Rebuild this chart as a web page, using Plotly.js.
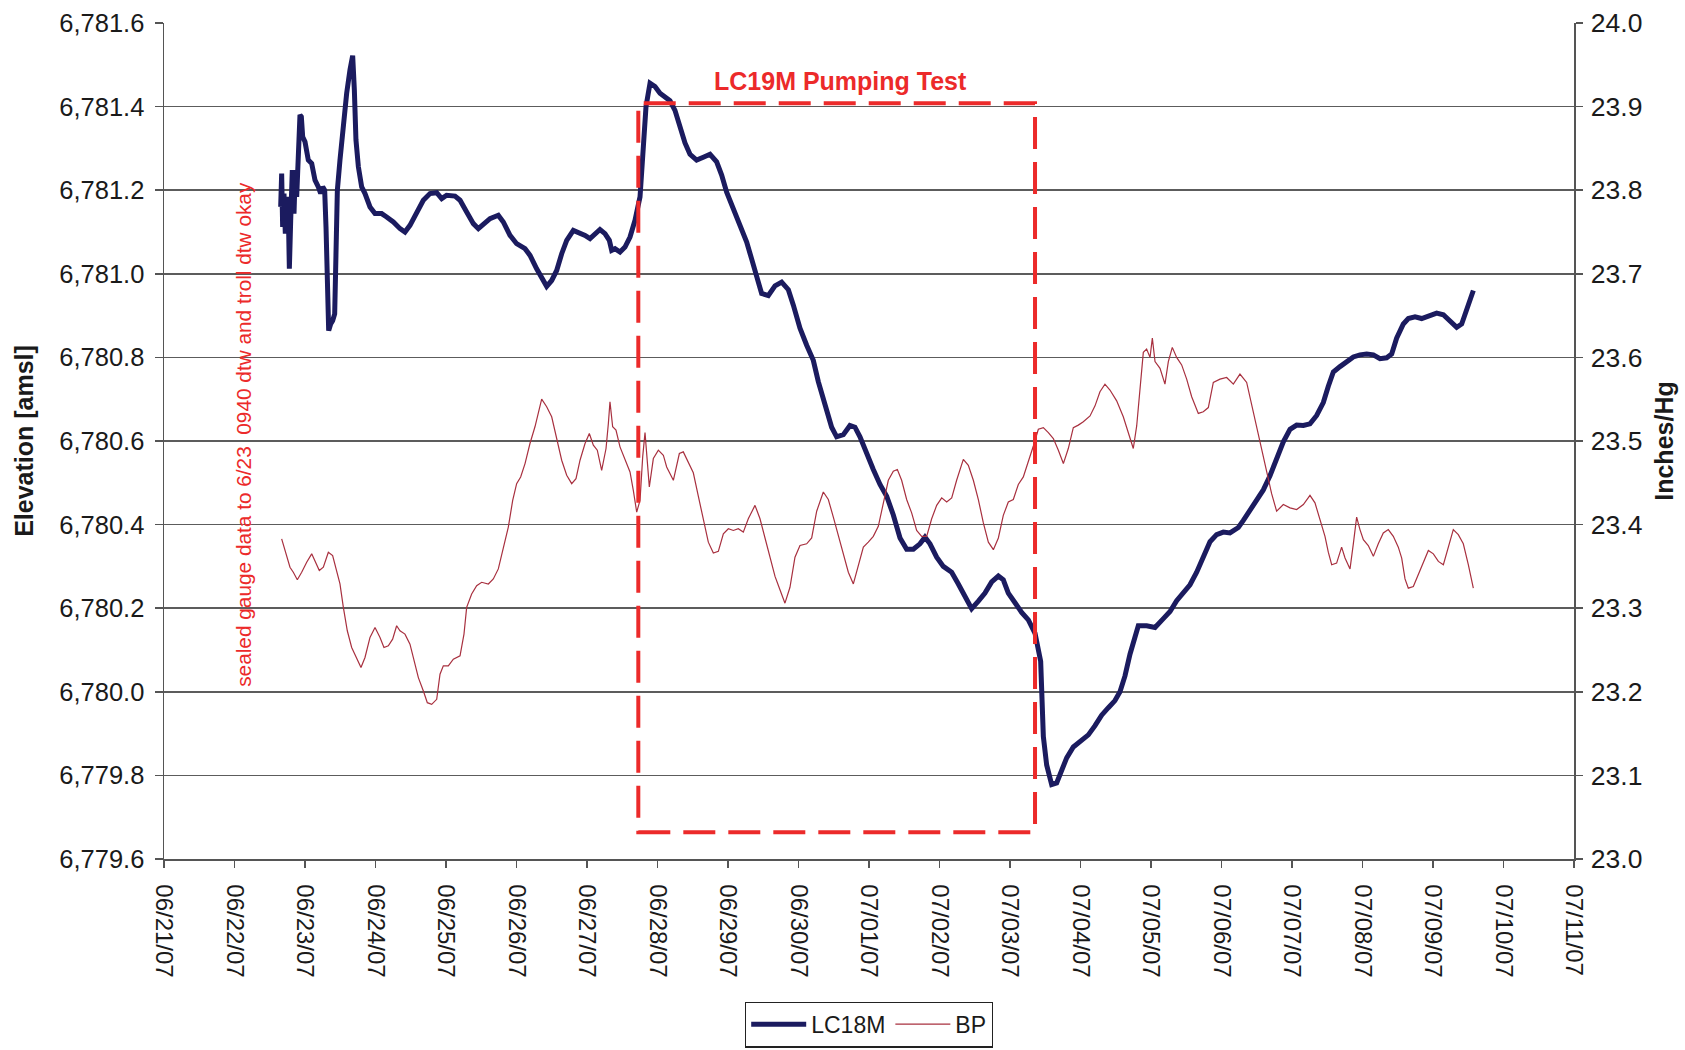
<!DOCTYPE html>
<html>
<head>
<meta charset="utf-8">
<script src="https://cdn.plot.ly/plotly-3.0.1.min.js"></script>
<style>html,body{margin:0;padding:0;background:#fff;}#chart{width:1685px;height:1050px;}</style>
</head>
<body>
<div id="chart"></div>
<script>
// Time is stored as days elapsed since 06/21/07 00:00
const startDate = Date.UTC(2007, 5, 21);

// LC18M water-level elevation (ft amsl), left axis
const lcDays = [
1.655,1.669,1.683,1.702,1.721,1.740,1.764,1.778,1.797,1.820,1.844,1.863,1.882,1.905,1.929,1.948,1.967,2.000,2.047,2.095,
2.142,2.189,2.222,2.251,2.279,2.298,2.317,2.336,2.364,2.392,2.421,2.440,2.459,2.496,2.544,2.591,2.638,2.676,2.700,2.723,
2.757,2.804,2.851,2.922,2.993,3.087,3.158,3.253,3.348,3.418,3.489,3.584,3.678,3.773,3.868,3.939,4.009,4.128,4.199,4.293,
4.388,4.459,4.530,4.624,4.742,4.813,4.908,5.002,5.121,5.192,5.286,5.371,5.428,5.499,5.570,5.641,5.712,5.806,5.901,5.972,
6.043,6.114,6.184,6.255,6.317,6.350,6.397,6.468,6.539,6.610,6.681,6.752,6.776,6.799,6.837,6.894,6.965,7.035,7.106,
7.177,7.248,7.319,7.390,7.461,7.555,7.650,7.745,7.839,7.910,7.981,8.076,8.194,8.265,8.336,8.407,8.477,8.572,8.667,8.761,
8.856,8.927,9.021,9.116,9.210,9.281,9.376,9.470,9.541,9.636,9.730,9.801,9.872,9.967,10.061,10.156,10.251,10.345,10.440,10.534,
10.629,10.723,10.794,10.865,10.960,11.054,11.172,11.267,11.362,11.456,11.551,11.645,11.740,11.835,11.905,11.976,12.071,12.165,12.260,12.355,
12.435,12.449,12.473,12.520,12.591,12.662,12.733,12.804,12.898,13.016,13.111,13.206,13.300,13.395,13.489,13.560,13.631,13.702,13.773,13.820,
13.938,14.057,14.175,14.270,14.364,14.459,14.553,14.648,14.742,14.837,14.931,15.026,15.120,15.239,15.310,15.404,15.499,15.593,15.688,15.782,
15.877,15.972,16.066,16.161,16.255,16.350,16.444,16.515,16.586,16.681,16.775,16.870,16.964,17.059,17.154,17.248,17.343,17.414,17.484,17.579,
17.650,17.745,17.839,17.934,18.052,18.147,18.241,18.336,18.407,18.478,18.572
];
const lcElev = [
6781.160,6781.240,6781.112,6781.192,6781.096,6781.184,6781.144,6781.012,6781.128,6781.248,6781.144,6781.248,6781.184,6781.296,6781.380,6781.376,6781.328,6781.316,6781.272,6781.264,
6781.224,6781.208,6781.192,6781.208,6781.200,6781.112,6780.920,6780.864,6780.880,6780.888,6780.904,6781.112,6781.200,6781.272,6781.360,6781.432,6781.488,6781.522,6781.440,6781.320,
6781.256,6781.208,6781.192,6781.160,6781.144,6781.144,6781.136,6781.124,6781.108,6781.100,6781.116,6781.144,6781.176,6781.192,6781.194,6781.180,6781.188,6781.186,6781.176,6781.148,
6781.120,6781.108,6781.120,6781.132,6781.140,6781.124,6781.092,6781.072,6781.060,6781.044,6781.012,6780.984,6780.970,6780.984,6781.008,6781.048,6781.080,6781.104,6781.098,6781.092,
6781.084,6781.096,6781.106,6781.096,6781.080,6781.056,6781.060,6781.052,6781.064,6781.088,6781.128,6781.184,6781.240,6781.320,6781.400,6781.456,6781.448,6781.432,6781.424,
6781.414,6781.391,6781.354,6781.313,6781.286,6781.272,6781.279,6781.286,6781.268,6781.236,6781.195,6781.153,6781.108,6781.076,6781.035,6780.989,6780.953,6780.948,6780.971,6780.980,
6780.962,6780.925,6780.870,6780.829,6780.793,6780.742,6780.688,6780.633,6780.610,6780.615,6780.637,6780.633,6780.610,6780.569,6780.532,6780.496,6780.468,6780.423,6780.368,6780.341,
6780.341,6780.354,6780.370,6780.354,6780.322,6780.300,6780.286,6780.258,6780.231,6780.199,6780.217,6780.236,6780.263,6780.277,6780.268,6780.236,6780.213,6780.190,6780.172,6780.140,
6780.073,6779.987,6779.893,6779.825,6779.778,6779.782,6779.816,6779.842,6779.868,6779.885,6779.897,6779.919,6779.944,6779.962,6779.979,6780.000,6780.038,6780.090,6780.132,6780.158,
6780.158,6780.154,6780.175,6780.192,6780.218,6780.239,6780.256,6780.286,6780.321,6780.359,6780.376,6780.382,6780.380,6780.393,6780.410,6780.436,6780.462,6780.483,6780.517,6780.560,
6780.598,6780.628,6780.638,6780.637,6780.641,6780.661,6780.692,6780.731,6780.765,6780.778,6780.789,6780.801,6780.806,6780.808,6780.806,6780.797,6780.799,6780.808,6780.846,6780.880,
6780.893,6780.897,6780.893,6780.900,6780.906,6780.902,6780.885,6780.872,6780.880,6780.915,6780.960
];

// Barometric pressure (inches Hg), right axis
const bpDays = [
1.669,1.716,1.787,1.834,1.891,1.953,2.024,2.095,2.142,2.203,2.260,2.331,2.392,2.449,2.496,2.544,2.600,2.662,2.733,2.794,
2.851,2.922,2.993,3.064,3.120,3.182,3.243,3.300,3.347,3.418,3.489,3.546,3.608,3.679,3.735,3.797,3.868,3.915,3.962,4.033,
4.104,4.199,4.255,4.293,4.364,4.435,4.506,4.601,4.671,4.742,4.813,4.884,4.946,5.002,5.059,5.121,5.191,5.262,5.357,5.428,
5.499,5.570,5.641,5.712,5.783,5.844,5.901,5.972,6.033,6.090,6.146,6.208,6.270,6.303,6.326,6.364,6.411,6.468,6.539,6.610,
6.657,6.705,6.752,6.790,6.823,6.856,6.884,6.941,7.012,7.083,7.130,7.225,7.310,
7.366,7.437,7.508,7.579,7.650,7.721,7.792,7.863,7.934,8.005,8.076,8.146,8.217,8.288,8.383,8.454,8.525,8.596,8.667,8.737,
8.808,8.879,8.950,9.021,9.116,9.187,9.258,9.352,9.423,9.494,9.565,9.636,9.707,9.778,9.849,9.920,9.990,10.061,10.132,10.203,
10.274,10.345,10.402,10.463,10.534,10.605,10.676,10.747,10.818,10.889,10.960,11.031,11.102,11.173,11.243,11.338,11.409,11.480,11.551,11.622,
11.693,11.764,11.835,11.905,11.976,12.047,12.118,12.189,12.260,12.331,12.402,12.473,12.544,12.615,12.686,12.757,12.827,12.898,12.969,13.040,
13.135,13.206,
13.276,13.347,13.418,13.513,13.607,13.678,13.749,13.797,13.844,13.891,13.938,13.986,14.019,14.057,14.128,14.198,14.246,14.302,14.364,14.435,
14.506,14.577,14.671,14.742,14.813,14.884,14.979,15.073,15.168,15.262,15.357,15.451,15.546,15.640,15.711,15.782,15.877,15.972,16.066,16.161,
16.255,16.326,16.397,16.468,16.515,16.563,16.633,16.704,16.752,16.823,16.870,16.917,16.964,17.012,17.082,17.154,17.224,17.295,17.366,17.437,
17.508,17.556,17.603,17.650,17.721,17.792,17.863,17.934,18.005,18.076,18.147,18.217,18.288,18.359,18.430,18.501,18.572
];
const bpVals = [
23.383,23.369,23.349,23.343,23.334,23.343,23.355,23.365,23.357,23.345,23.349,23.367,23.363,23.345,23.329,23.301,23.273,23.253,23.239,23.229,
23.241,23.265,23.277,23.265,23.253,23.255,23.263,23.279,23.273,23.269,23.257,23.237,23.217,23.201,23.187,23.185,23.191,23.221,23.231,23.231,
23.239,23.243,23.269,23.301,23.317,23.327,23.331,23.329,23.335,23.347,23.373,23.397,23.429,23.449,23.457,23.473,23.497,23.517,23.550,23.541,
23.529,23.501,23.477,23.459,23.449,23.455,23.477,23.497,23.509,23.495,23.489,23.465,23.491,23.521,23.547,23.517,23.513,23.493,23.477,23.463,
23.441,23.415,23.429,23.481,23.510,23.469,23.445,23.479,23.489,23.483,23.469,23.453,23.485,
23.487,23.475,23.462,23.434,23.407,23.379,23.366,23.368,23.389,23.395,23.393,23.395,23.391,23.407,23.423,23.407,23.384,23.361,23.338,23.322,
23.306,23.325,23.361,23.375,23.377,23.384,23.416,23.439,23.430,23.409,23.386,23.363,23.343,23.329,23.352,23.373,23.379,23.386,23.398,23.425,
23.453,23.464,23.466,23.453,23.430,23.414,23.393,23.386,23.386,23.407,23.423,23.432,23.427,23.432,23.453,23.478,23.471,23.453,23.430,23.402,
23.379,23.370,23.384,23.411,23.427,23.430,23.448,23.457,23.475,23.494,23.514,23.516,23.510,23.503,23.489,23.473,23.491,23.516,23.519,23.523,
23.530,23.542,
23.559,23.568,23.561,23.548,23.529,23.510,23.491,23.518,23.565,23.606,23.610,23.600,23.623,23.595,23.587,23.568,23.595,23.612,23.600,23.591,
23.574,23.553,23.533,23.535,23.540,23.570,23.574,23.576,23.568,23.580,23.570,23.535,23.501,23.463,23.437,23.416,23.424,23.420,23.418,23.424,
23.435,23.426,23.407,23.386,23.367,23.352,23.354,23.373,23.360,23.347,23.377,23.409,23.394,23.382,23.375,23.362,23.377,23.390,23.394,23.386,
23.373,23.360,23.335,23.324,23.326,23.341,23.356,23.369,23.365,23.356,23.352,23.373,23.394,23.388,23.377,23.352,23.324
];

// LC19M pumping test period box and notes
const pumpStart = '2007-06-27 17:28';
const pumpEnd = '2007-07-03 08:31';
const pumpBoxLow = 6779.664;
const pumpBoxHigh = 6781.408;
const pumpLabel = 'LC19M Pumping Test';
const pumpLabelAt = ['2007-06-30 14:24', 6781.462];
const noteText = 'sealed gauge data to 6/23\u00a0\u00a00940 dtw and troll dtw okay';
const noteAt = ['2007-06-22 03:15', 6780.615];

const seriesNames = ['LC18M', 'BP'];

function toDate(d) {
  return new Date(startDate + d * 86400000).toISOString().slice(0, 19).replace('T', ' ');
}

const n1 = Math.min(lcDays.length, lcElev.length);
const n2 = Math.min(bpDays.length, bpVals.length);

const traces = [
  {
    x: lcDays.slice(0, n1).map(toDate), y: lcElev.slice(0, n1),
    name: seriesNames[0], type: 'scatter', mode: 'lines',
    line: {color: '#1b1b5f', width: 5}, yaxis: 'y'
  },
  {
    x: bpDays.slice(0, n2).map(toDate), y: bpVals.slice(0, n2),
    name: seriesNames[1], type: 'scatter', mode: 'lines',
    line: {color: '#a8303f', width: 1.2}, yaxis: 'y2'
  }
];

const red = '#ec2a2a';
const fontFam = '"Liberation Sans", Arial, sans-serif';

const layout = {
  width: 1685, height: 1050,
  margin: {l: 164, r: 111, t: 23, b: 191, pad: 0, autoexpand: false},
  paper_bgcolor: '#ffffff', plot_bgcolor: '#ffffff',
  font: {family: fontFam, size: 24, color: '#1a1a1a'},
  showlegend: true,
  legend: {
    orientation: 'h', x: 0.5, xanchor: 'center', y: -0.2255, yanchor: 'bottom',
    bordercolor: '#222', borderwidth: 1.2, bgcolor: '#ffffff',
    font: {size: 23, color: '#1a1a1a'}, itemwidth: 55
  },
  xaxis: {
    type: 'date', range: ['2007-06-21', '2007-07-11'],
    tick0: '2007-06-21', dtick: 86400000, tickformat: '%m/%d/%y',
    tickangle: 90, ticks: 'outside', ticklen: 7, tickcolor: '#555', tickwidth: 1.5,
    ticklabelstandoff: 12,
    showline: true, linecolor: '#555', linewidth: 1.5,
    showgrid: false, zeroline: false, tickfont: {size: 24}, automargin: false
  },
  yaxis: {
    range: [6779.6, 6781.6], tick0: 6779.6, dtick: 0.2, tickformat: ',.1f',
    ticks: 'outside', ticklen: 8, tickcolor: '#555', tickwidth: 1.5,
    ticklabelstandoff: 5,
    showline: true, linecolor: '#555', linewidth: 1.5,
    showgrid: true, gridcolor: '#5c5c5c', gridwidth: 1.5, zeroline: false,
    tickfont: {size: 25.5}, automargin: false,
    title: {text: '<b>Elevation [amsl]</b>', font: {size: 25}, standoff: 18}
  },
  yaxis2: {
    overlaying: 'y', side: 'right',
    range: [23.0, 24.0], tick0: 23.0, dtick: 0.1, tickformat: '.1f',
    ticks: 'outside', ticklen: 7, tickcolor: '#555', tickwidth: 1.5,
    ticklabelstandoff: 3,
    showline: true, linecolor: '#555', linewidth: 1.5,
    showgrid: false, zeroline: false, tickfont: {size: 26.5}, automargin: false,
    title: {text: '<b>Inches/Hg</b>', font: {size: 25}, standoff: 14}
  },
  shapes: [{
    type: 'rect', xref: 'x', yref: 'y',
    x0: pumpStart, x1: pumpEnd, y0: pumpBoxLow, y1: pumpBoxHigh,
    line: {color: red, width: 4, dash: '32px,13px'}, fillcolor: 'rgba(0,0,0,0)', layer: 'above'
  }],
  annotations: [
    {
      xref: 'x', yref: 'y', x: pumpLabelAt[0], y: pumpLabelAt[1],
      text: '<b>' + pumpLabel + '</b>', showarrow: false,
      font: {size: 25, color: red, family: fontFam}, xanchor: 'center', yanchor: 'middle'
    },
    {
      xref: 'x', yref: 'y', x: noteAt[0], y: noteAt[1],
      text: noteText, showarrow: false, textangle: -90,
      font: {size: 20.8, color: red, family: fontFam}, xanchor: 'center', yanchor: 'middle'
    }
  ]
};

Plotly.newPlot('chart', traces, layout, {staticPlot: true, displayModeBar: false});
</script>
</body>
</html>
